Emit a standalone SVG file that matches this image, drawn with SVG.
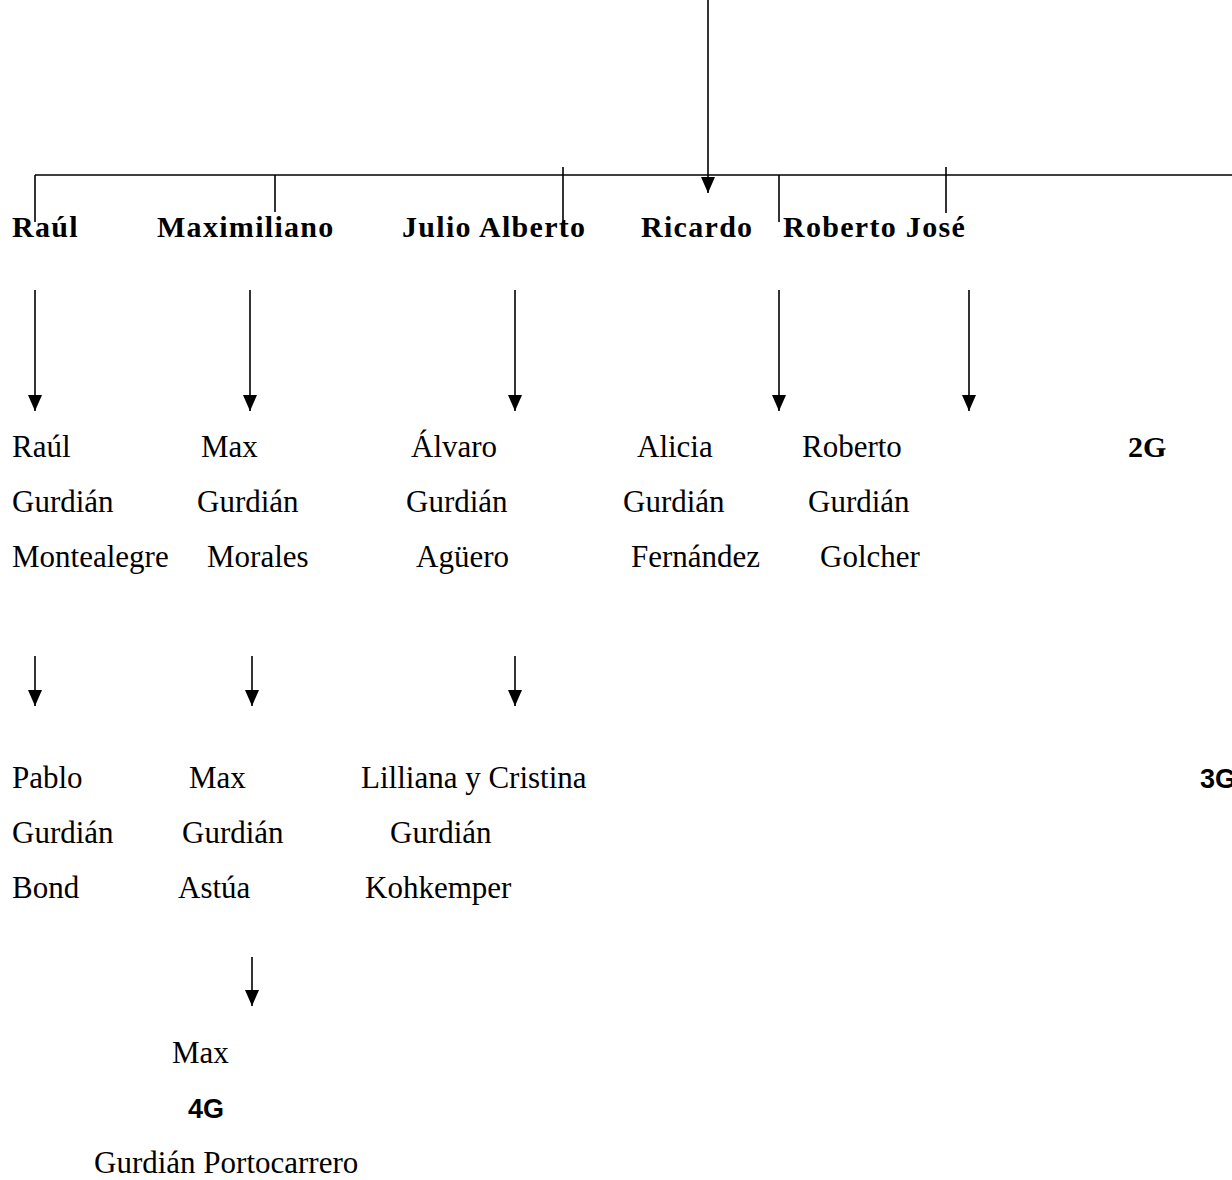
<svg xmlns="http://www.w3.org/2000/svg" width="1232" height="1180" viewBox="0 0 1232 1180">
<style>
.t{font-family:"Liberation Serif","Times New Roman",serif;font-size:31px;fill:#000}
.b{font-family:"Liberation Serif","Times New Roman",serif;font-size:30px;font-weight:bold;fill:#000;letter-spacing:1.3px}
.g{font-family:"Liberation Serif","Times New Roman",serif;font-size:30px;font-weight:bold;fill:#000}
.s{font-family:"Liberation Sans",Arial,sans-serif;font-size:27px;font-weight:bold;fill:#000}
.l{stroke:#000;stroke-width:1.6;fill:none}
</style>
<defs>
<marker id="ah2" viewBox="0 0 16 14" refX="16" refY="7" markerWidth="16" markerHeight="14" markerUnits="userSpaceOnUse" orient="auto">
<path d="M0,0 L16,7 L0,14 z" fill="#000"/>
</marker>
</defs>
<g id="connectors">
<line class="l" x1="708" y1="0" x2="708" y2="193" marker-end="url(#ah2)"/>
<line class="l" x1="35" y1="175" x2="1232" y2="175"/>
<line class="l" x1="35" y1="175" x2="35" y2="222"/>
<line class="l" x1="275" y1="175" x2="275" y2="212"/>
<line class="l" x1="563" y1="167" x2="563" y2="227"/>
<line class="l" x1="779" y1="175" x2="779" y2="222"/>
<line class="l" x1="946" y1="167" x2="946" y2="213"/>
<line class="l" x1="35" y1="290" x2="35" y2="411" marker-end="url(#ah2)"/>
<line class="l" x1="250" y1="290" x2="250" y2="411" marker-end="url(#ah2)"/>
<line class="l" x1="515" y1="290" x2="515" y2="411" marker-end="url(#ah2)"/>
<line class="l" x1="779" y1="290" x2="779" y2="411" marker-end="url(#ah2)"/>
<line class="l" x1="969" y1="290" x2="969" y2="411" marker-end="url(#ah2)"/>
<line class="l" x1="35" y1="656" x2="35" y2="706" marker-end="url(#ah2)"/>
<line class="l" x1="252" y1="656" x2="252" y2="706" marker-end="url(#ah2)"/>
<line class="l" x1="515" y1="656" x2="515" y2="706" marker-end="url(#ah2)"/>
<line class="l" x1="252" y1="957" x2="252" y2="1006" marker-end="url(#ah2)"/>
</g>
<g id="n-raul"><text class="b" x="12" y="237">Raúl</text></g>
<g id="n-maximiliano"><text class="b" x="157" y="237">Maximiliano</text></g>
<g id="n-julio"><text class="b" x="402" y="237">Julio Alberto</text></g>
<g id="n-ricardo"><text class="b" x="641" y="237">Ricardo</text></g>
<g id="n-roberto"><text class="b" x="783" y="237">Roberto José</text></g>
<g id="n-raul2"><text class="t" x="12" y="457">Raúl</text><text class="t" x="12" y="512">Gurdián</text><text class="t" x="12" y="567">Montealegre</text></g>
<g id="n-max2"><text class="t" x="201" y="457">Max</text><text class="t" x="197" y="512">Gurdián</text><text class="t" x="207" y="567">Morales</text></g>
<g id="n-alvaro"><text class="t" x="411" y="457">Álvaro</text><text class="t" x="406" y="512">Gurdián</text><text class="t" x="416" y="567">Agüero</text></g>
<g id="n-alicia"><text class="t" x="637" y="457">Alicia</text><text class="t" x="623" y="512">Gurdián</text><text class="t" x="631" y="567">Fernández</text></g>
<g id="n-roberto2"><text class="t" x="802" y="457">Roberto</text><text class="t" x="808" y="512">Gurdián</text><text class="t" x="820" y="567">Golcher</text></g>
<g id="n-2g"><text class="g" x="1128" y="457">2G</text></g>
<g id="n-pablo"><text class="t" x="12" y="788">Pablo</text><text class="t" x="12" y="843">Gurdián</text><text class="t" x="12" y="898">Bond</text></g>
<g id="n-max3"><text class="t" x="189" y="788">Max</text><text class="t" x="182" y="843">Gurdián</text><text class="t" x="178" y="898">Astúa</text></g>
<g id="n-lilliana"><text class="t" x="361" y="788">Lilliana y Cristina</text><text class="t" x="390" y="843">Gurdián</text><text class="t" x="365" y="898">Kohkemper</text></g>
<g id="n-3g"><text class="s" x="1200" y="788">3G</text></g>
<g id="n-max4"><text class="t" x="172" y="1063">Max</text><text class="s" x="188" y="1118">4G</text><text class="t" x="94" y="1173">Gurdián Portocarrero</text></g>
</svg>
